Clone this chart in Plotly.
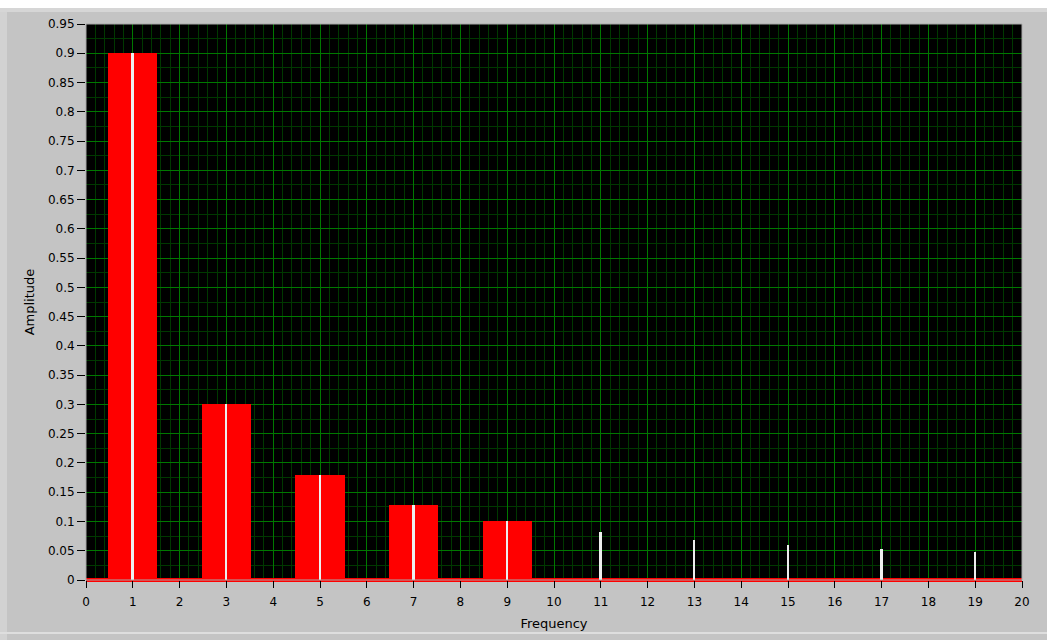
import plotly.graph_objects as go

# Data
freqs = [1, 3, 5, 7, 9, 11, 13, 15, 17, 19]
amps = [0.9, 0.3, 0.18, 0.1286, 0.1, 0.0818, 0.0692, 0.06, 0.0529, 0.0474]
bar_freqs = [1, 3, 5, 7, 9]
bar_amps = [0.9, 0.3, 0.18, 0.1286, 0.1]

x_ticks = list(range(0, 21))
x_ticktext = [str(v) for v in x_ticks]
y_ticks = [round(i * 0.05, 2) for i in range(20)]
y_ticktext = ["0", "0.05", "0.1", "0.15", "0.2", "0.25", "0.3", "0.35", "0.4", "0.45",
              "0.5", "0.55", "0.6", "0.65", "0.7", "0.75", "0.8", "0.85", "0.9", "0.95"]

W, H = 1047, 640
ml, mr, mt, mb = 86, 25, 24, 60
pw, ph = W - ml - mr, H - mt - mb

fig = go.Figure()
fig.add_trace(go.Bar(x=bar_freqs, y=bar_amps, width=1.05, marker=dict(color="#ff0000", line=dict(width=0)),
                     hoverinfo="x+y"))
fig.add_trace(go.Bar(x=freqs, y=amps, width=0.04, marker=dict(color="#eeeeee", line=dict(width=0)),
                     hoverinfo="x+y"))

def px_x(p):
    return (p - ml) / pw

def px_y(p):
    return 1 - (p - mt) / ph

shapes = [
    dict(type="rect", xref="paper", yref="paper", x0=px_x(0), x1=px_x(W), y0=px_y(0), y1=px_y(8),
         fillcolor="#ffffff", line=dict(width=0), layer="below"),
    dict(type="rect", xref="paper", yref="paper", x0=px_x(0), x1=px_x(W), y0=px_y(8), y1=px_y(12),
         fillcolor="#d6d6d6", line=dict(width=0), layer="below"),
    dict(type="rect", xref="paper", yref="paper", x0=px_x(0), x1=px_x(7), y0=px_y(12), y1=px_y(H),
         fillcolor="#d2d2d2", line=dict(width=0), layer="below"),
    dict(type="rect", xref="paper", yref="paper", x0=px_x(0), x1=px_x(W), y0=px_y(632), y1=px_y(634),
         fillcolor="#dedede", line=dict(width=0), layer="below"),
    dict(type="rect", xref="paper", yref="paper", x0=0, x1=1, y0=0, y1=1,
         fillcolor="rgba(0,0,0,0)", line=dict(width=1, color="#a8a8a8"), layer="above"),
]

fig.update_layout(
    width=W, height=H,
    margin=dict(l=ml, r=mr, t=mt, b=mb, autoexpand=False),
    paper_bgcolor="#c4c4c4",
    plot_bgcolor="#000000",
    barmode="overlay",
    bargap=0,
    showlegend=False,
    font=dict(family="DejaVu Sans", size=12, color="#000000"),
    shapes=shapes,
    xaxis=dict(
        range=[0, 20], tickmode="array", tickvals=x_ticks, ticktext=x_ticktext,
        showgrid=True, gridcolor="#007800", gridwidth=1,
        minor=dict(dtick=0.2, showgrid=True, gridcolor="#003800", gridwidth=1, ticks=""),
        ticks="outside", ticklen=7, tickcolor="#000000", tickwidth=1,
        ticklabelstandoff=4,
        zeroline=False, showline=False, automargin=False,
        title=dict(text="Frequency", standoff=10, font=dict(size=13)),
        tickfont=dict(size=12),
    ),
    yaxis=dict(
        range=[0, 0.95], tickmode="array", tickvals=y_ticks, ticktext=y_ticktext,
        showgrid=True, gridcolor="#007800", gridwidth=1,
        minor=dict(dtick=0.025, showgrid=True, gridcolor="#003800", gridwidth=1, ticks=""),
        ticks="outside", ticklen=8, tickcolor="#000000", tickwidth=1,
        zeroline=True, zerolinecolor="#ff0000", zerolinewidth=4,
        showline=False, automargin=False,
        title=dict(text="Amplitude", standoff=10, font=dict(size=13)),
        tickfont=dict(size=12),
    ),
)

fig.write_html("out.html", config={"displayModeBar": False},
               post_script="document.body.style.margin='0';document.body.style.padding='0';")
